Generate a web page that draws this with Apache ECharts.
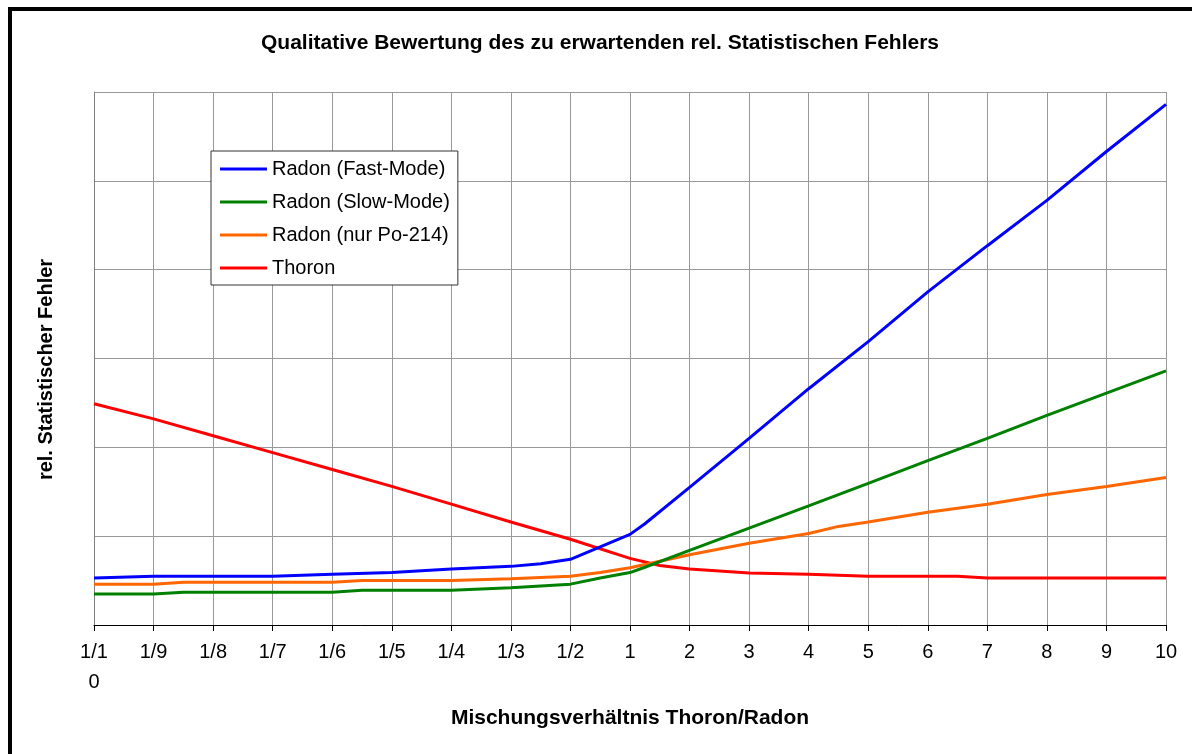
<!DOCTYPE html>
<html>
<head>
<meta charset="utf-8">
<script src="https://cdn.jsdelivr.net/npm/echarts@6/dist/echarts.min.js"></script>
<style>
html,body{margin:0;padding:0;background:#fff;}
#chart{width:1192px;height:754px;}
</style>
</head>
<body>
<div id="chart"></div>
<script>
// Category tick labels (x positions are category indices; fractional = intermediate points)
const tickLabels = ["1/10","1/9","1/8","1/7","1/6","1/5","1/4","1/3","1/2","1","2","3","4","5","6","7","8","9","10"];

const seriesNames = ["Radon (Fast-Mode)","Radon (Slow-Mode)","Radon (nur Po-214)","Thoron"];

// [category index, value]
const radonFast = [[0,0.53],[1,0.55],[2,0.55],[3,0.55],[4,0.57],[5,0.59],[6,0.63],[7,0.66],[7.5,0.69],[8,0.74],[8.5,0.88],[9,1.02],[9.25,1.14],[10,1.55],[11,2.1],[12,2.66],[13,3.19],[14,3.75],[15,4.27],[16,4.78],[17,5.33],[18,5.86]];
const radonSlow = [[0,0.35],[1,0.35],[1.5,0.37],[2,0.37],[3,0.37],[4,0.37],[4.5,0.39],[5,0.39],[6,0.39],[7,0.42],[8,0.46],[8.5,0.53],[9,0.59],[9.25,0.65],[10,0.84],[11,1.09],[12,1.34],[13,1.595],[14,1.85],[15,2.1],[16,2.36],[17,2.61],[18,2.86]];
const radonPo214 = [[0,0.46],[1,0.46],[1.5,0.48],[2,0.48],[3,0.48],[4,0.48],[4.5,0.5],[5,0.5],[6,0.5],[7,0.52],[8,0.55],[8.5,0.59],[9,0.645],[10,0.79],[11,0.92],[12,1.03],[12.5,1.11],[13,1.16],[14,1.27],[15,1.36],[16,1.47],[17,1.56],[18,1.66]];
const thoron = [[0,2.49],[1,2.32],[2,2.13],[3,1.94],[4,1.75],[5,1.56],[6,1.36],[7,1.16],[8,0.965],[9,0.75],[9.5,0.67],[10,0.63],[11,0.585],[12,0.57],[13,0.55],[14,0.55],[14.5,0.55],[15,0.53],[16,0.53],[17,0.53],[18,0.53]];

const colors = ["#0000FF","#008000","#FF6600","#FF0000"];
const allData = [radonFast, radonSlow, radonPo214, thoron];

const chart = echarts.init(document.getElementById('chart'), null, {renderer:'canvas'});
const FONT = 'Liberation Sans, Arial, sans-serif';

chart.setOption({
  animation: false,
  backgroundColor: '#fff',
  textStyle: {fontFamily: FONT},
  title: {
    text: 'Qualitative Bewertung des zu erwartenden rel. Statistischen Fehlers',
    left: 600, textAlign: 'center', top: 32, padding: 0,
    textStyle: {fontSize: 21, fontWeight: 'bold', color: '#000', fontFamily: FONT, lineHeight: 22}
  },
  graphic: [{
    type: 'rect', silent: true, z: 100,
    shape: {x: 10, y: 9, width: 1300, height: 900},
    style: {fill: 'none', stroke: '#000', lineWidth: 4}
  }],
  legend: {
    orient: 'vertical', left: 211, top: 151,
    padding: [8, 8, 7, 9],
    icon: 'rect',
    itemWidth: 47, itemHeight: 3, itemGap: 13,
    backgroundColor: '#fff', borderColor: '#333', borderWidth: 1,
    textStyle: {fontSize: 20, color: '#000', fontFamily: FONT, lineHeight: 20},
    data: seriesNames
  },
  grid: {left: 94, right: 26, top: 92, bottom: 129, containLabel: false},
  xAxis: {
    type: 'value', min: 0, max: 18, interval: 1,
    name: 'Mischungsverhältnis Thoron/Radon',
    nameLocation: 'middle', nameGap: 82,
    nameTextStyle: {fontSize: 21, fontWeight: 'bold', color: '#000', fontFamily: FONT, lineHeight: 22},
    axisLine: {lineStyle: {color: '#000', width: 1}},
    axisTick: {show: true, length: 6, lineStyle: {color: '#000'}},
    axisLabel: {
      formatter: v => tickLabels[v] !== undefined ? tickLabels[v] : '',
      fontSize: 20, color: '#000', fontFamily: FONT,
      margin: 12, lineHeight: 30, width: 32, overflow: 'breakAll'
    },
    splitLine: {show: true, lineStyle: {color: '#999', width: 1}}
  },
  yAxis: {
    type: 'value', min: 0, max: 6, interval: 1,
    name: 'rel. Statistischer Fehler',
    nameLocation: 'middle', nameGap: 37,
    nameTextStyle: {fontSize: 20, fontWeight: 'bold', color: '#000', fontFamily: FONT, lineHeight: 22, padding: [0, 22, 0, 0]},
    axisLine: {show: true, lineStyle: {color: '#808080', width: 1}},
    axisTick: {show: false},
    axisLabel: {show: false},
    splitLine: {show: true, lineStyle: {color: '#999', width: 1}}
  },
  series: seriesNames.map((n, i) => ({
    name: n, type: 'line', data: allData[i],
    showSymbol: false, symbol: 'none',
    lineStyle: {color: colors[i], width: 3},
    itemStyle: {color: colors[i]},
    z: 2 + (3 - i)
  }))
});
</script>
</body>
</html>
